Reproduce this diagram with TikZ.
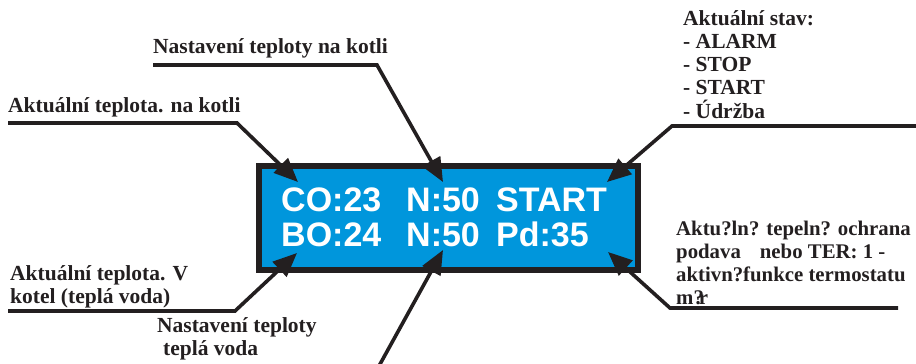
\documentclass[tikz,border=0pt]{standalone}
\usepackage{fontspec}
\setmainfont{Liberation Serif}
\newfontfamily\lcdfont{Liberation Sans}
\usetikzlibrary{arrows.meta}
\definecolor{lcdblue}{RGB}{0,150,220}
\definecolor{ink}{RGB}{35,31,32}
\tikzset{
  lbl/.style={anchor=base west, inner sep=0pt, font=\bfseries\fontsize{21.5}{23}\selectfont, text=ink},
  lblr/.style={lbl, font=\bfseries\fontsize{20.8}{23}\selectfont},
  lcd/.style={anchor=base west, inner sep=0pt, font=\lcdfont\bfseries\fontsize{34}{36}\selectfont, text=white},
  leader/.style={draw=ink, line width=3.6pt, -{Triangle[length=24pt,width=20pt]}},
  display/.style={draw=ink, line width=6pt, fill=lcdblue, minimum width=379pt, minimum height=104pt, inner sep=0pt}
}
\begin{document}
\begin{tikzpicture}[x=1pt,y=-1pt]
\useasboundingbox (0,0) rectangle (916,364);
% display
\node[display] (disp) at (448.5,218) {};
\node[lcd] (c1) at (281,211) {CO:23};
\node[lcd] (c2) at (406,211) {N:50};
\node[lcd] (c3) at (496,211) {START};
\node[lcd] (d1) at (281,246) {BO:24};
\node[lcd] (d2) at (406,246) {N:50};
\node[lcd] (d3) at (496,246) {Pd:35};
% arrow tips inside display
\coordinate (tl) at (298,182);
\coordinate (tm) at (443,182);
\coordinate (tr) at (607,182);
\coordinate (bl) at (297,253);
\coordinate (bm) at (443,250);
\coordinate (br) at (608,252);
% labels
\node[lbl] (L1) at (153,53) {Nastavení teploty na kotli};
\node[lbl] (L2) at (8,112) {Aktuální teplota. na kotli};
\node[lbl] (R1a) at (683,25) {Aktuální stav:};
\node[lbl] (R1b) at (683,48) {- ALARM};
\node[lbl] (R1c) at (683,71.5) {- STOP};
\node[lbl] (R1d) at (683,94.5) {- START};
\node[lbl] (R1e) at (683,118) {- Údržba};
\node[lbl] (B1a) at (10,280) {Aktuální teplota. V};
\node[lbl] (B1b) at (10,303) {kotel (teplá voda)};
\node[lbl] (B2a) at (157,332) {Nastavení teploty};
\node[lbl] (B2b) at (163,355) {teplá voda};
\node[lblr] (R2a) at (676,235) {Aktu?ln? tepeln? ochrana};
\node[lblr] (R2b) at (676,258) {podava\hspace{19pt}nebo TER: 1 -};
\node[lblr] (R2c) at (676,281) {aktivn?funkce termostatu};
\node[lblr] (R2d) at (676,304) {m?\kern-5pt r};
% leader corners
\coordinate (a1) at (153,65);  \coordinate (a2) at (377,65);
\coordinate (b1) at (8,123);   \coordinate (b2) at (237,123);
\coordinate (c1s) at (916,126); \coordinate (c2s) at (672,126);
\coordinate (e1) at (8,311);   \coordinate (e2) at (235,311);
\coordinate (f1) at (379,366);
\coordinate (g1) at (898,308); \coordinate (g2) at (670,308);
% leaders
\draw[leader] (a1) -- (a2) -- (tm);
\draw[leader] (b1) -- (b2) -- (tl);
\draw[leader] (c1s) -- (c2s) -- (tr);
\draw[leader] (e1) -- (e2) -- (bl);
\draw[leader] (f1) -- (bm);
\draw[leader] (g1) -- (g2) -- (br);
\end{tikzpicture}
\end{document}
